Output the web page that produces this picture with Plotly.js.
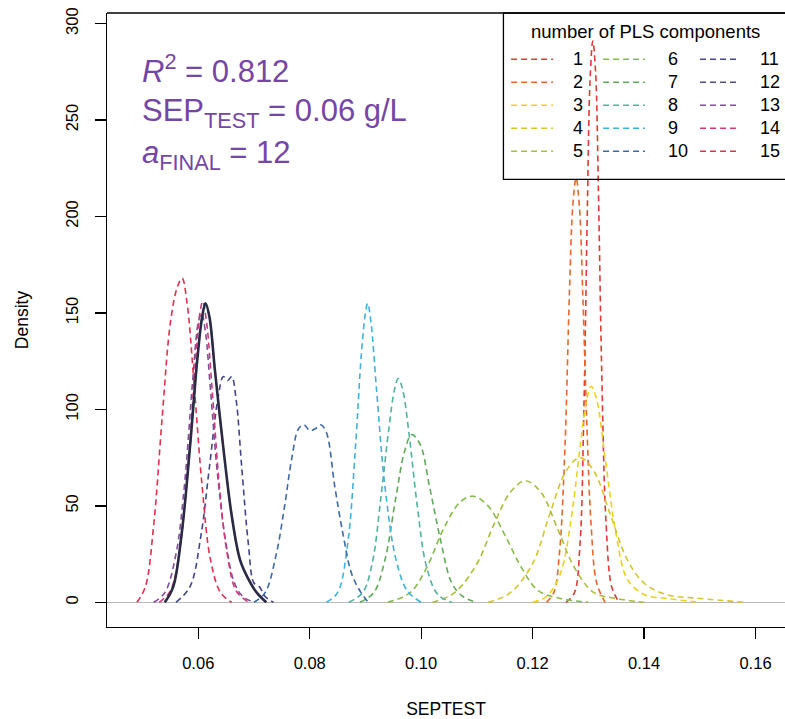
<!DOCTYPE html>
<html>
<head>
<meta charset="utf-8">
<script src="https://cdn.plot.ly/plotly-3.0.1.min.js"></script>
<style>
html,body{margin:0;padding:0;background:#fff;}
#chart{width:785px;height:719px;}
</style>
</head>
<body>
<div id="chart"></div>
<script>
// ---- data ----
const componentLabels = ['1','2','3','4','5','6','7','8','9','10','11','12','13','14','15'];
const finalComponent = 12;

const x1 = [0.1260,0.1275,0.1285,0.1292,0.1298,0.1303,0.1308,0.1313,0.1318,0.1324,0.1332,0.1342,0.1355];
const y1 = [0,5,30,100,200,270,291,275,215,120,40,8,0];

const x2 = [0.1225,0.1238,0.1248,0.1258,0.1266,0.1272,0.1278,0.1284,0.1290,0.1297,0.1305,0.1315,0.1330];
const y2 = [0,5,25,80,160,205,220,205,160,95,40,10,0];

const x3 = [0.1200,0.1225,0.1250,0.1270,0.1285,0.1297,0.1305,0.1315,0.1330,0.1350,0.1370,0.1400,0.1440,0.1500];
const y3 = [0,3,15,45,80,105,112,105,75,35,12,4,2,0];

const x4 = [0.1120,0.1160,0.1200,0.1230,0.1260,0.1285,0.1310,0.1340,0.1370,0.1400,0.1440,0.1500,0.1580];
const y4 = [0,5,20,45,68,75,68,45,22,10,4,2,0];

const x5 = [0.1020,0.1060,0.1100,0.1130,0.1160,0.1187,0.1215,0.1245,0.1275,0.1310,0.1350,0.1400];
const y5 = [0,5,20,40,57,63,57,38,18,5,2,0];

const x6 = [0.0940,0.0980,0.1010,0.1040,0.1070,0.1093,0.1120,0.1150,0.1180,0.1210,0.1250,0.1300];
const y6 = [0,5,18,38,52,55,50,35,18,6,2,0];

const x7 = [0.0890,0.0915,0.0935,0.0955,0.0970,0.0983,0.0998,0.1015,0.1035,0.1055,0.1075,0.1100];
const y7 = [0,5,22,55,78,87,82,60,32,10,3,0];

const x8 = [0.0870,0.0895,0.0912,0.0928,0.0942,0.0952,0.0959,0.0967,0.0978,0.0993,0.1010,0.1030,0.1055];
const y8 = [0,5,20,55,90,110,116,110,88,50,18,4,0];

const x9 = [0.0830,0.0850,0.0868,0.0882,0.0893,0.0900,0.0904,0.0910,0.0920,0.0935,0.0955,0.0975,0.1000];
const y9 = [0,5,30,80,130,150,155,145,110,60,22,6,0];

const x10 = [0.0700,0.0720,0.0740,0.0755,0.0768,0.0780,0.0790,0.0800,0.0810,0.0820,0.0830,0.0845,0.0860,0.0875,0.0890,0.0905];
const y10 = [0,5,25,50,75,90,92,89,90,92,88,60,35,15,6,0];

const x11 = [0.0560,0.0585,0.0605,0.0620,0.0635,0.0645,0.0653,0.0660,0.0668,0.0678,0.0690,0.0700,0.0710,0.0720,0.0735];
const y11 = [0,8,35,70,105,117,115,117,105,70,30,10,8,3,0];

const x12 = [0.0540,0.0555,0.0570,0.0585,0.0598,0.0607,0.0613,0.0620,0.0630,0.0645,0.0660,0.0675,0.0690,0.0705,0.0722];
const y12 = [0,8,35,80,125,148,155,148,120,80,45,22,12,5,0];

const x13 = [0.0520,0.0540,0.0560,0.0575,0.0590,0.0600,0.0606,0.0613,0.0622,0.0635,0.0650,0.0665,0.0680,0.0700];
const y13 = [0,5,25,60,115,145,150,140,110,65,30,10,3,0];

const x14 = [0.0530,0.0550,0.0568,0.0583,0.0595,0.0603,0.0608,0.0615,0.0625,0.0638,0.0652,0.0668,0.0690];
const y14 = [0,6,30,75,125,150,156,145,110,60,25,6,0];

const x15 = [0.0490,0.0505,0.0520,0.0535,0.0550,0.0562,0.0571,0.0580,0.0592,0.0607,0.0622,0.0640,0.0660];
const y15 = [0,8,40,95,145,163,168,155,115,60,22,5,0];

const xTicks = [0.06,0.08,0.10,0.12,0.14,0.16];
const xTickText = ['0.06','0.08','0.10','0.12','0.14','0.16'];
const yTicks = [0,50,100,150,200,250,300];
const yTickText = ['0','50','100','150','200','250','300'];

const statLines = ['<i>R</i><sup>2</sup> = 0.812','SEP<sub>TEST</sub> = 0.06 g/L','<i>a</i><sub>FINAL</sub> = 12'];
const legendTitle = 'number of PLS components';

// ---- styles ----
const colors = ['#de3b35','#e8672c','#ecd21a','#d4c52e','#a9bd3c','#86bb4a','#5faa58','#4fb39c',
                '#3fb2dc','#3c6aa6','#44448e','#4f4c86','#7f4f9b','#d13a78','#e0304f'];
const dashPat = '6px,4px';
const FONT = 'Liberation Sans, Arial, Helvetica, sans-serif';

const xs = [x1,x2,x3,x4,x5,x6,x7,x8,x9,x10,x11,x12,x13,x14,x15];
const ys = [y1,y2,y3,y4,y5,y6,y7,y8,y9,y10,y11,y12,y13,y14,y15];

const traces = xs.map((x, i) => ({
  type: 'scatter', mode: 'lines', x: x, y: ys[i], name: componentLabels[i],
  line: {color: colors[i], width: 1.6, dash: dashPat, shape: 'spline', smoothing: 1},
  showlegend: false, hoverinfo: 'skip'
}));
traces.push({
  type: 'scatter', mode: 'lines', x: xs[finalComponent-1], y: ys[finalComponent-1],
  line: {color: '#2a2a44', width: 2.6, shape: 'spline', smoothing: 1},
  showlegend: false, hoverinfo: 'skip'
});

// pixel -> paper helpers (plot area: x 106.7..785, y 12.7..626.7)
const PL = 106.7, PR = 785, PT = 12.7, PB = 626.7;
const px = v => (v - PL) / (PR - PL);
const py = v => (PB - v) / (PB - PT);

const shapes = [
  {type:'line', xref:'paper', yref:'paper', x0:0, x1:1, y0:1, y1:1, line:{color:'#000', width:1.3}},
  {type:'rect', xref:'paper', yref:'paper', x0:px(503.3), x1:1.2, y0:py(179), y1:1,
   line:{color:'#000', width:1.3}, fillcolor:'rgba(0,0,0,0)'}
];
const annotations = [];
const rowY = [59, 82, 105, 128, 151];
const colSample = [[511,553],[603,645],[700,740]];
const colLabelX = [570.5, 665.5, 757.5];
componentLabels.forEach((lab, i) => {
  const c = Math.floor(i / 5), r = i % 5;
  shapes.push({type:'line', xref:'paper', yref:'paper',
    x0:px(colSample[c][0]), x1:px(colSample[c][1]), y0:py(rowY[r]), y1:py(rowY[r]),
    line:{color:colors[i], width:1.6, dash:dashPat}});
  annotations.push({xref:'paper', yref:'paper', x:px(colLabelX[c]), y:py(rowY[r]),
    xanchor:'left', yanchor:'middle', text:lab, showarrow:false,
    font:{family:FONT, size:18, color:'#000'}});
});
annotations.push({xref:'paper', yref:'paper', x:px(645.8), y:py(31), xanchor:'center', yanchor:'middle',
  text:legendTitle, showarrow:false, font:{family:FONT, size:18.5, color:'#000'}});

const statY = [69, 113, 155];
statLines.forEach((t, i) => {
  annotations.push({xref:'paper', yref:'paper', x:px(140), y:py(statY[i]), xanchor:'left', yanchor:'middle',
    text:t, showarrow:false, font:{family:FONT, size:31, color:'#7446a6'}});
});

const layout = {
  width: 785, height: 719,
  margin: {l: PL, r: 0, t: PT, b: 719 - PB, pad: 0},
  paper_bgcolor: '#fff', plot_bgcolor: '#fff',
  showlegend: false,
  font: {family: FONT, color: '#000'},
  xaxis: {
    range: [0.06 + (PL - 198) / 5575, 0.06 + (PR - 198) / 5575],
    tickvals: xTicks, ticktext: xTickText,
    ticks: 'outside', ticklen: 11, tickwidth: 1.3, tickcolor: '#000',
    ticklabelstandoff: 10,
    showline: true, linecolor: '#000', linewidth: 1.3, mirror: false,
    showgrid: false, zeroline: false, automargin: false,
    tickfont: {family: FONT, size: 16.5, color: '#000'},
    title: {text: 'SEPTEST', font: {family: FONT, size: 17.5, color: '#000'}, standoff: 36}
  },
  yaxis: {
    range: [(602 - PB) / 1.929, (602 - PT) / 1.929],
    tickvals: yTicks, ticktext: yTickText, tickangle: -90,
    ticks: 'outside', ticklen: 11, tickwidth: 1.3, tickcolor: '#000',
    ticklabelstandoff: 10,
    showline: true, linecolor: '#000', linewidth: 1.3, mirror: false,
    showgrid: false, zeroline: true, zerolinecolor: '#b8b8b8', zerolinewidth: 1.5,
    automargin: false,
    tickfont: {family: FONT, size: 16.5, color: '#000'},
    title: {text: 'Density', font: {family: FONT, size: 17.5, color: '#000'}, standoff: 30}
  },
  shapes: shapes,
  annotations: annotations
};

Plotly.newPlot('chart', traces, layout, {staticPlot: true, displayModeBar: false});
</script>
</body>
</html>
